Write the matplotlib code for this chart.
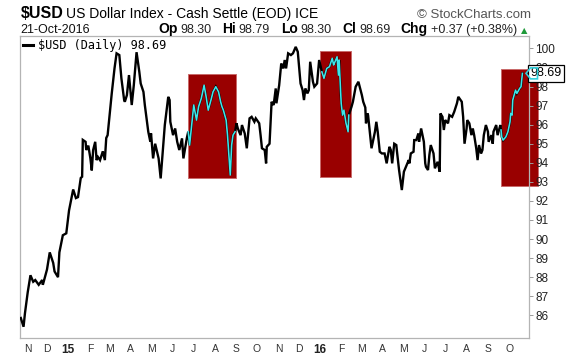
import matplotlib
matplotlib.use("Agg")
import matplotlib.pyplot as plt
import matplotlib.dates as mdates
import matplotlib.transforms as mtransforms
from matplotlib.patches import Rectangle, Polygon
from matplotlib.lines import Line2D
import pandas as pd
import numpy as np

# ---------------- data ----------------
dates = [
    "2014-10-24", "2014-10-28", "2014-10-30", "2014-11-03", "2014-11-07", "2014-11-11",
    "2014-11-14", "2014-11-19", "2014-11-24", "2014-11-25", "2014-12-01", "2014-12-05",
    "2014-12-10", "2014-12-12", "2014-12-17", "2014-12-19", "2014-12-24", "2014-12-29",
    "2015-01-02", "2015-01-08", "2015-01-12", "2015-01-15", "2015-01-19", "2015-01-21",
    "2015-01-22", "2015-01-26", "2015-01-27", "2015-01-30", "2015-02-02", "2015-02-04",
    "2015-02-06", "2015-02-09", "2015-02-11", "2015-02-13", "2015-02-16", "2015-02-20",
    "2015-02-23", "2015-02-25", "2015-02-27", "2015-03-05", "2015-03-09", "2015-03-12",
    "2015-03-16", "2015-03-19", "2015-03-23", "2015-03-24", "2015-03-27", "2015-03-30",
    "2015-04-03", "2015-04-06", "2015-04-08", "2015-04-10", "2015-04-14", "2015-04-16",
    "2015-04-20", "2015-04-22", "2015-04-27", "2015-04-30", "2015-05-01", "2015-05-04",
    "2015-05-07", "2015-05-12", "2015-05-15", "2015-05-18", "2015-05-21", "2015-05-26",
    "2015-05-28", "2015-05-29", "2015-06-02", "2015-06-05", "2015-06-08", "2015-06-11",
    "2015-06-15", "2015-06-17", "2015-06-22", "2015-06-24", "2015-06-26", "2015-06-29",
    "2015-07-02", "2015-07-06", "2015-07-09", "2015-07-13", "2015-07-17", "2015-07-20",
    "2015-07-23", "2015-07-27", "2015-07-30", "2015-08-03", "2015-08-07", "2015-08-10",
    "2015-08-12", "2015-08-14", "2015-08-18", "2015-08-20", "2015-08-24", "2015-08-26",
    "2015-08-28", "2015-08-31", "2015-09-02", "2015-09-04", "2015-09-08", "2015-09-10",
    "2015-09-14", "2015-09-17", "2015-09-21", "2015-09-24", "2015-09-28", "2015-09-30",
    "2015-10-05", "2015-10-07", "2015-10-09", "2015-10-13", "2015-10-15", "2015-10-16",
    "2015-10-20", "2015-10-23", "2015-10-26", "2015-10-29", "2015-10-30", "2015-11-03",
    "2015-11-06", "2015-11-09", "2015-11-11", "2015-11-13", "2015-11-16", "2015-11-20",
    "2015-11-23", "2015-11-25", "2015-11-27", "2015-11-30", "2015-12-03", "2015-12-04",
    "2015-12-07", "2015-12-09", "2015-12-11", "2015-12-14", "2015-12-16", "2015-12-18",
    "2015-12-22", "2015-12-24", "2015-12-28", "2015-12-31", "2016-01-04", "2016-01-07",
    "2016-01-11", "2016-01-15", "2016-01-19", "2016-01-21", "2016-01-22", "2016-01-26",
    "2016-01-28", "2016-01-29", "2016-02-01", "2016-02-03", "2016-02-05", "2016-02-08",
    "2016-02-11", "2016-02-12", "2016-02-16", "2016-02-18", "2016-02-22", "2016-02-26",
    "2016-03-02", "2016-03-04", "2016-03-07", "2016-03-08", "2016-03-10", "2016-03-11",
    "2016-03-16", "2016-03-18", "2016-03-21", "2016-03-23", "2016-03-25", "2016-03-28",
    "2016-03-31", "2016-04-04", "2016-04-07", "2016-04-11", "2016-04-13", "2016-04-15",
    "2016-04-18", "2016-04-21", "2016-04-22", "2016-04-25", "2016-04-29", "2016-05-02",
    "2016-05-05", "2016-05-09", "2016-05-10", "2016-05-12", "2016-05-16", "2016-05-17",
    "2016-05-20", "2016-05-23", "2016-05-24", "2016-05-27", "2016-05-31", "2016-06-02",
    "2016-06-03", "2016-06-06", "2016-06-08", "2016-06-10", "2016-06-14", "2016-06-16",
    "2016-06-20", "2016-06-23", "2016-06-24", "2016-06-27", "2016-06-29", "2016-07-01",
    "2016-07-05", "2016-07-07", "2016-07-11", "2016-07-14", "2016-07-18", "2016-07-20",
    "2016-07-25", "2016-07-27", "2016-07-29", "2016-08-01", "2016-08-02", "2016-08-05",
    "2016-08-08", "2016-08-10", "2016-08-12", "2016-08-15", "2016-08-17", "2016-08-19",
    "2016-08-22", "2016-08-24", "2016-08-26", "2016-08-29", "2016-09-01", "2016-09-02",
    "2016-09-06", "2016-09-08", "2016-09-09", "2016-09-13", "2016-09-15", "2016-09-19",
    "2016-09-20", "2016-09-21", "2016-09-23", "2016-09-27", "2016-09-30", "2016-10-03",
    "2016-10-04", "2016-10-06", "2016-10-07", "2016-10-11", "2016-10-13", "2016-10-17",
    "2016-10-19", "2016-10-21",
]
usd_close = [
    85.86, 85.40, 86.10, 87.20, 88.10, 87.76,
    87.85, 87.60, 87.85, 87.60, 88.40, 89.30,
    88.75, 88.30, 88.00, 89.30, 90.20, 90.30,
    91.50, 92.60, 92.15, 92.20, 93.20, 93.27,
    95.20, 95.10, 94.67, 94.90, 94.23, 93.60,
    94.67, 95.10, 94.14, 94.30, 94.14, 94.60,
    94.14, 95.30, 95.45, 97.64, 98.95, 99.74,
    99.65, 98.43, 97.29, 97.20, 97.55, 98.60,
    97.03, 98.07, 98.95, 99.80, 98.77, 98.16,
    97.72, 97.03, 95.63, 95.10, 95.54, 94.23,
    95.00, 94.23, 93.18, 94.58, 95.98, 97.46,
    97.29, 96.15, 95.45, 95.80, 95.10, 94.67,
    95.28, 94.23, 95.30, 95.63, 94.93, 95.98,
    97.03, 96.24, 96.94, 97.38, 98.07, 97.46,
    96.76, 97.29, 97.72, 97.99, 97.72, 97.20,
    96.94, 96.76, 96.24, 95.45, 93.36, 94.93,
    95.45, 95.63, 96.07, 95.80, 95.45, 95.98,
    95.54, 94.76, 96.33, 96.41, 96.15, 96.33,
    96.07, 95.45, 94.76, 94.67, 93.97, 94.84,
    95.00, 97.20, 97.03, 97.90, 97.12, 98.07,
    99.21, 98.95, 99.39, 98.95, 99.74, 99.65,
    99.74, 99.91, 100.08, 99.82, 98.60, 98.16,
    97.81, 97.29, 97.90, 97.64, 97.81, 99.30,
    98.25, 97.99, 98.16, 99.39, 98.77, 98.43,
    98.95, 99.04, 99.48, 99.13, 99.21, 99.56,
    98.60, 99.39, 97.12, 96.50, 96.76, 96.07,
    95.63, 96.50, 96.94, 97.20, 97.99, 98.25,
    97.55, 97.20, 96.90, 96.07, 96.59, 96.50,
    94.76, 95.10, 95.63, 96.15, 95.63, 94.58,
    94.49, 94.49, 93.97, 94.84, 94.67, 93.97,
    95.00, 94.93, 94.58, 93.62, 92.57, 93.53,
    93.79, 94.14, 93.97, 94.49, 94.58, 95.19,
    95.19, 95.54, 95.10, 95.80, 95.10, 93.97,
    93.79, 93.62, 94.41, 94.93, 94.49, 93.71,
    94.05, 93.53, 96.59, 96.41, 95.72, 96.24,
    96.07, 96.50, 96.41, 96.67, 97.12, 97.46,
    97.20, 96.41, 95.00, 95.80, 96.24, 96.07,
    95.45, 95.80, 95.45, 94.76, 94.14, 94.93,
    94.49, 94.67, 95.45, 95.98, 95.63, 95.10,
    95.45, 95.00, 95.63, 95.98, 95.45, 95.98,
    95.72, 95.36, 95.19, 95.36, 95.63, 96.15,
    96.59, 96.50, 97.29, 97.81, 97.64, 97.90,
    97.99, 98.69,
]

box_start = ["2015-06-24", "2016-01-01", "2016-09-20"]
box_end = ["2015-09-01", "2016-02-15", "2016-11-13"]
box_low = [93.18, 93.23, 92.78]
box_high = [98.64, 99.86, 98.90]

month_labels = ["N", "D", "15", "F", "M", "A", "M", "J", "J", "A", "S", "O",
                "N", "D", "16", "F", "M", "A", "M", "J", "J", "A", "S", "O"]
y_ticks = list(range(86, 101))

symbol = "$USD"
title_name = "US Dollar Index - Cash Settle (EOD) ICE"
last_date = "21-Oct-2016"
quote_labels = ["Op", "Hi", "Lo", "Cl", "Chg"]
quote_values = ["98.30", "98.79", "98.30", "98.69", "+0.37 (+0.38%)"]
last_value = 98.69

# ---------------- figure ----------------
W, H = 575, 355
fig = plt.figure(figsize=(W / 100, H / 100), dpi=100)
fig.patch.set_facecolor("white")
ax_l, ax_r, ax_t, ax_b = 20, 529, 36, 338
ax = fig.add_axes([ax_l / W, (H - ax_b) / H, (ax_r - ax_l) / W, (ax_b - ax_t) / H])

dts = pd.to_datetime(dates)
vals = np.array(usd_close)

ax.plot(dts, vals, color="black", lw=1.7, zorder=3, solid_joinstyle="miter")

for s, e, lo, hi in zip(box_start, box_end, box_low, box_high):
    s_ = pd.Timestamp(s)
    e_ = pd.Timestamp(e)
    x0 = mdates.date2num(s_)
    x1 = mdates.date2num(e_)
    ax.add_patch(Rectangle((x0, lo), x1 - x0, hi - lo, facecolor="#990000",
                           edgecolor="#c86a6a", lw=0.7, zorder=1.5, clip_on=False))
    m = (dts >= s_) & (dts <= e_)
    ax.plot(dts[m], vals[m], color="#3ee6ea", lw=1.15, zorder=4)

ax.set_ylim(84.81, 100.65)
ax.set_xlim(pd.Timestamp("2014-10-22 20:00"), pd.Timestamp("2016-10-30 14:00"))

# axes styling
for sp in ax.spines.values():
    sp.set_color("#b4b4b4")
    sp.set_linewidth(0.9)
    sp.set_zorder(2.2)

ax.yaxis.tick_right()
ax.set_yticks(y_ticks)
ax.set_yticklabels([str(t) for t in y_ticks])
ax.tick_params(axis="y", which="major", direction="out", length=3, width=0.7,
               color="#9a9a9a", pad=1.5, labelsize=8.5, labelcolor="#222222")
for lab in ax.get_yticklabels():
    lab.set_fontfamily("Liberation Sans")

tick_dates = pd.date_range("2014-11-01", "2016-10-31", freq="BMS")
ax.set_xticks(tick_dates)
ax.set_xticklabels(month_labels)
ax.tick_params(axis="x", which="major", length=0, pad=4, labelsize=7.5, labelcolor="#333333")
for lab in ax.get_xticklabels():
    lab.set_fontfamily("Liberation Sans")
    if lab.get_text() in ("15", "16"):
        lab.set_fontweight("bold")
        lab.set_fontsize(8.5)
        lab.set_color("#222222")

# legend
handle = Line2D([], [], color="black", lw=2.2)
leg = ax.legend([handle], [f"{symbol} (Daily) {last_value:.2f}"], loc="upper left",
                frameon=False, handlelength=0.85, handletextpad=0.45,
                borderaxespad=0.0, borderpad=0.25,
                prop=dict(family="DejaVu Sans Mono", size=8.5))
leg.set_zorder(6)

# price tag on the right
blend = mtransforms.blended_transform_factory(ax.transAxes, ax.transData)
ax.text(1.003, last_value, f"{last_value:.2f}", transform=blend, ha="left", va="center",
        fontsize=9, family="Liberation Sans", color="black", zorder=10, clip_on=False,
        bbox=dict(boxstyle="square,pad=0.18", fc="white", ec="black", lw=0.9))
fig.canvas.draw()
yc = ax.transData.transform((mdates.date2num(dts[-1]), last_value))[1]
xr = ax.transAxes.transform((1.0, 0))[0]
tag = Polygon([[xr - 3, yc], [xr + 1.5, yc + 5.5], [xr + 8.5, yc + 5.5],
               [xr + 8.5, yc - 5.5], [xr + 1.5, yc - 5.5]], closed=True,
              transform=mtransforms.IdentityTransform(), facecolor="none",
              edgecolor="#2fd0dc", lw=1.2, zorder=11)
fig.add_artist(tag)

# ---------------- header ----------------
def px(x, y_from_top):
    return x / W, (H - y_from_top) / H

fig.text(*px(20.5, 18.3), symbol, fontsize=11.5, fontweight="bold",
         family="Liberation Sans", va="baseline", ha="left", color="black")
fig.text(*px(66, 18.3), title_name, fontsize=10, family="Liberation Sans",
         va="baseline", ha="left", color="black")
fig.text(*px(531, 18.0), "\u00a9 StockCharts.com", fontsize=9.5, family="Liberation Sans",
         va="baseline", ha="right", color="#555555")
fig.text(*px(20, 33.3), last_date, fontsize=9, family="Liberation Sans",
         va="baseline", ha="left", color="#111111")

renderer = fig.canvas.get_renderer()
pieces = []
for lab, val in zip(quote_labels, quote_values):
    t1 = fig.text(0, 0, lab, fontsize=10, fontweight="bold", family="Liberation Sans",
                  va="baseline", ha="left", color="black")
    t2 = fig.text(0, 0, val, fontsize=9, family="Liberation Sans",
                  va="baseline", ha="left", color="#222222")
    pieces.append((t1, t2))
start_x, end_x = 158, 517
inner_gap = 3.0
widths = []
for t1, t2 in pieces:
    w1 = t1.get_window_extent(renderer).width
    w2 = t2.get_window_extent(renderer).width
    widths.append((w1, w2))
total = sum(w1 + inner_gap + w2 for w1, w2 in widths)
outer_gap = (end_x - start_x - total) / (len(pieces) - 1)
cur = start_x
for (t1, t2), (w1, w2) in zip(pieces, widths):
    t1.set_position(px(cur, 33.3))
    t2.set_position(px(cur + w1 + inner_gap, 33.3))
    cur += w1 + inner_gap + w2 + outer_gap
fig.text(*px(521, 33.0), "\u25b2", fontsize=6, family="DejaVu Sans", color="#1f9a3a",
         va="baseline", ha="left")

fig.savefig("out.png", dpi=100, facecolor="white")
